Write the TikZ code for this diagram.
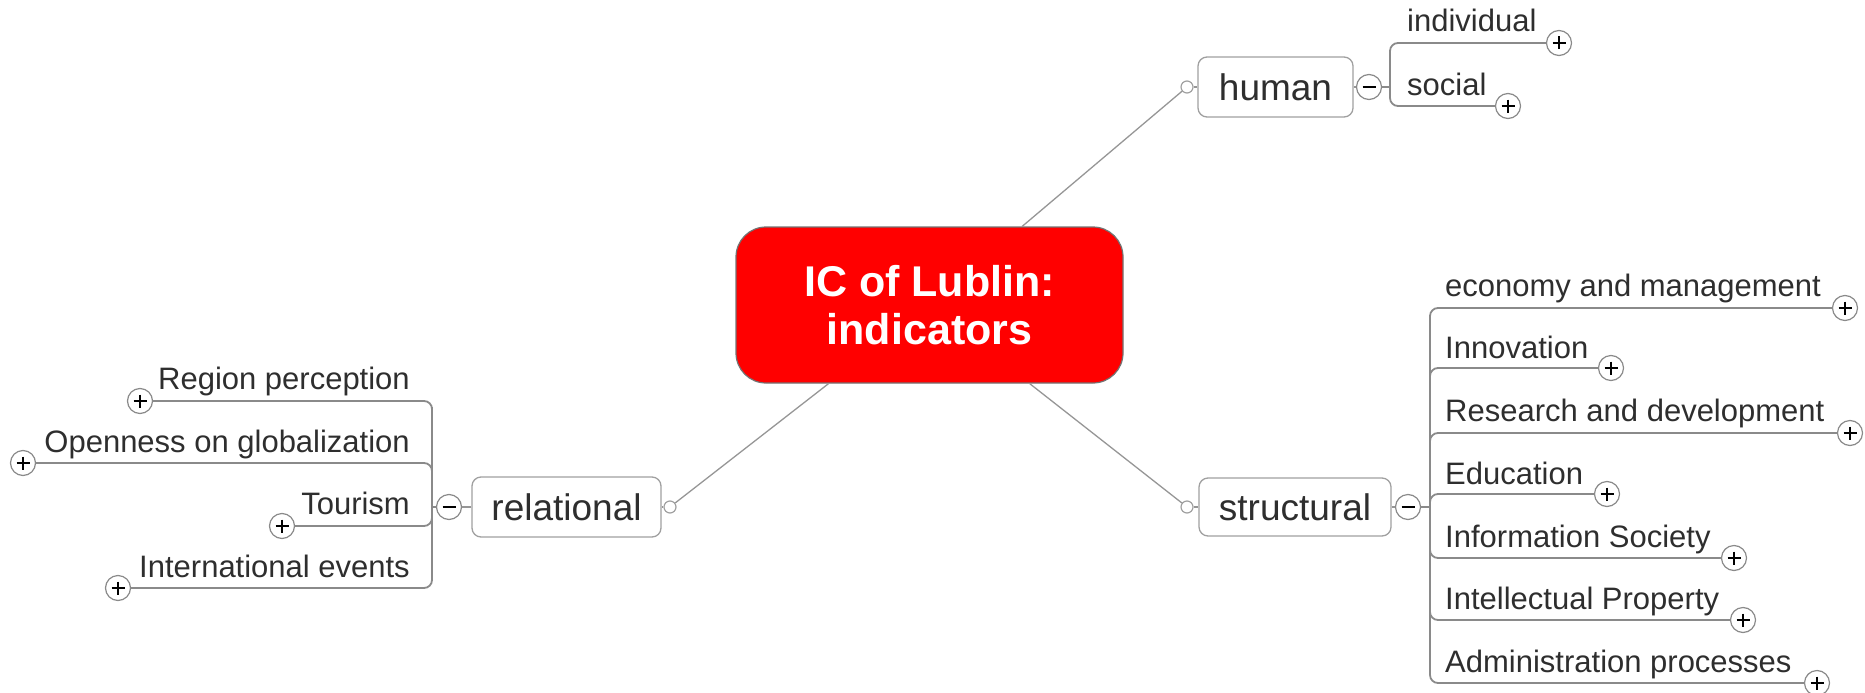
\documentclass[tikz,border=0pt]{standalone}
\usepackage{fontspec}
\setmainfont{Liberation Sans}
\usetikzlibrary{calc}
\definecolor{lineg}{HTML}{8A8A8A}
\definecolor{boxg}{HTML}{A0A0A0}
\definecolor{txt}{HTML}{2E2E2E}
\definecolor{mmred}{HTML}{FF0000}
\tikzset{
  central/.style={draw=black!55, line width=1.2pt, fill=mmred, rounded corners=30pt,
    minimum width=387pt, minimum height=156pt, align=center, text=white,
    font=\fontsize{43}{48}\selectfont\bfseries, inner sep=0pt},
  topic/.style={draw=boxg, line width=1.3pt, fill=white, rounded corners=9pt,
    inner sep=0pt, text=txt, font=\fontsize{37}{44}\selectfont},
  sub/.style={text=txt, font=\fontsize{31}{37}\selectfont, inner sep=0pt},
  conn/.style={draw=lineg!90, line width=1.3pt},
  br/.style={draw=lineg, line width=1.8pt},
  knob/.style={circle, draw=boxg, line width=1.2pt, fill=white, minimum size=12pt, inner sep=0pt},
  plusc/.style={circle, draw=lineg, line width=1.2pt, fill=white, minimum size=25pt, inner sep=0pt,
    path picture={\draw[black, line width=1.6pt]
      ($(path picture bounding box.center)+(-6.5,0)$) -- ($(path picture bounding box.center)+(6.5,0)$)
      ($(path picture bounding box.center)+(0,-6.5)$) -- ($(path picture bounding box.center)+(0,6.5)$);}},
  minusc/.style={circle, draw=lineg, line width=1.2pt, fill=white, minimum size=25pt, inner sep=0pt,
    path picture={\draw[black, line width=1.6pt]
      ($(path picture bounding box.center)+(-6.5,0)$) -- ($(path picture bounding box.center)+(6.5,0)$);}}
}
\begin{document}
\begin{tikzpicture}[x=1pt,y=-1pt]
\useasboundingbox (0,0) rectangle (1865,693);

% central
\node[central] (c) at (929.5,305) {IC of Lublin:\\indicators};

% main topics
\node[topic, minimum width=155pt, minimum height=60pt] (human) at (1275.5,87) {human};
\node[topic, minimum width=192pt, minimum height=58pt] (structural) at (1295,507) {structural};
\node[topic, minimum width=189pt, minimum height=60pt] (relational) at (566.5,507) {relational};

% knobs
\node[knob] (hk) at (1187,87) {};
\node[knob] (sk) at (1187,507) {};
\node[knob] (rk) at (670,507) {};

\draw[conn] (c) -- (hk);
\draw[conn] (c) -- (sk);
\draw[conn] (c) -- (rk);
\draw[conn] (hk) -- (human);
\draw[conn] (sk) -- (structural);
\draw[conn] (rk) -- (relational);

% collapse circles
\node[minusc] (hm) at (1369,87) {};
\node[minusc] (sm) at (1408,507) {};
\node[minusc] (rm) at (449,507) {};
\draw[conn] (human) -- (hm);
\draw[conn] (structural) -- (sm);
\draw[conn] (relational) -- (rm);

% ---------- human branch ----------
\coordinate (hj) at (1390,87);
\draw[br] (hm) -- (hj);
\draw[br] (1390,50) -- (1390,97);
\node[plusc] (p1) at (1559,43) {};
\node[plusc] (p2) at (1508,106) {};
\draw[br, rounded corners=8pt] (1390,58) |- (p1);
\draw[br, rounded corners=8pt] (1390,89) |- (p2);
\node[sub, anchor=base west] (t1) at (1407,32) {individual};
\node[sub, anchor=base west] (t2) at (1407,95) {social};

% ---------- structural branch ----------
\coordinate (sj) at (1430,507);
\draw[br] (sm) -- (sj);
\draw[br] (1430,315) -- (1430,674);
\node[plusc] (s1) at (1845,308) {};
\node[plusc] (s2) at (1611,368) {};
\node[plusc] (s3) at (1850,433) {};
\node[plusc] (s4) at (1607,494) {};
\node[plusc] (s5) at (1734,558) {};
\node[plusc] (s6) at (1743,620) {};
\node[plusc] (s7) at (1817,683) {};
\draw[br, rounded corners=8pt] (1430,323) |- (s1);
\draw[br, rounded corners=8pt] (1430,384) |- (s2);
\draw[br, rounded corners=8pt] (1430,448) |- (s3);
\draw[br, rounded corners=8pt] (1430,509) |- (s4);
\draw[br, rounded corners=8pt] (1430,541) |- (s5);
\draw[br, rounded corners=8pt] (1430,603) |- (s6);
\draw[br, rounded corners=8pt] (1430,666) |- (s7);
\node[sub, anchor=base west] at (1445,296) {economy and management};
\node[sub, anchor=base west] at (1445,358) {Innovation};
\node[sub, anchor=base west] at (1445,421) {Research and development};
\node[sub, anchor=base west] at (1445,484) {Education};
\node[sub, anchor=base west] at (1445,547) {Information Society};
\node[sub, anchor=base west] at (1445,609) {Intellectual Property};
\node[sub, anchor=base west] at (1445,672) {Administration processes};

% ---------- relational branch ----------
\coordinate (rj) at (432,507);
\draw[br] (rm) -- (rj);
\draw[br] (432,407) -- (432,579);
\node[plusc] (r1) at (140,401) {};
\node[plusc] (r2) at (23,463) {};
\node[plusc] (r3) at (282,526) {};
\node[plusc] (r4) at (118,588) {};
\draw[br, rounded corners=8pt] (432,415) |- (r1);
\draw[br, rounded corners=8pt] (432,478) |- (r2);
\draw[br, rounded corners=8pt] (432,508) |- (r3);
\draw[br, rounded corners=8pt] (432,571) |- (r4);
\node[sub, anchor=base east] at (410,389) {Region perception};
\node[sub, anchor=base east] at (410,452) {Openness on globalization};
\node[sub, anchor=base east] at (410,514) {Tourism};
\node[sub, anchor=base east] at (410,577) {International events};
\end{tikzpicture}
\end{document}
